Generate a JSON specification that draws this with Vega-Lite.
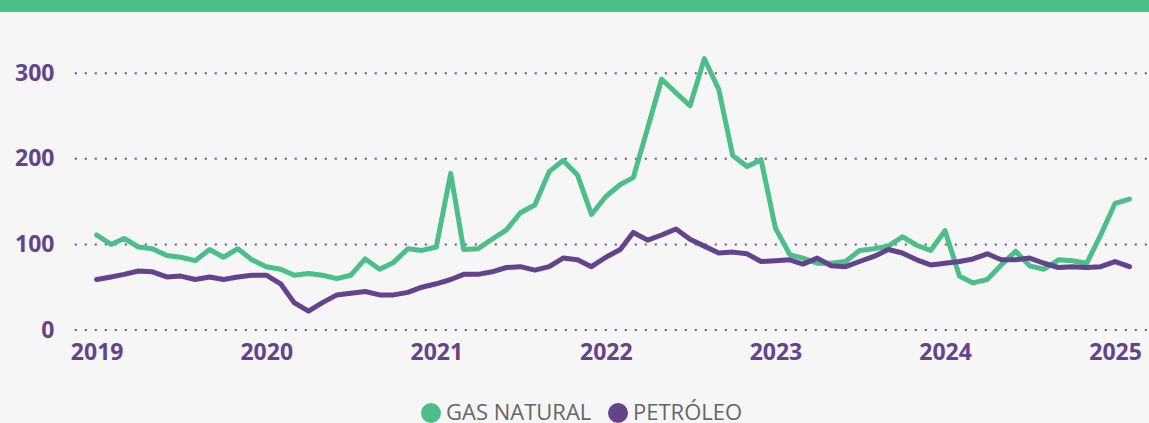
{
  "$schema": "https://vega.github.io/schema/vega-lite/v6.json",
  "background": "#F6F6F6",
  "padding": 0,
  "spacing": 27,
  "config": {"view": {"stroke": null}, "font": "Open Sans"},
  "vconcat": [
    {
      "width": 1149,
      "height": 12,
      "view": {"fill": "#4BBF87", "stroke": null},
      "data": {"values": [{"t": ""}]},
      "mark": {"type": "text", "opacity": 0},
      "encoding": {"text": {"field": "t", "type": "nominal"}}
    },
    {
      "width": 1149,
      "height": 291,
      "layer": [
        {
          "data": {"values": [{"v": 0}, {"v": 100}, {"v": 200}, {"v": 300}]},
          "mark": {"type": "rule", "strokeDash": [2, 8], "strokeWidth": 2, "color": "#6E4E96"},
          "encoding": {
            "y": {"field": "v", "type": "quantitative"},
            "x": {"datum": {"year": 2018, "month": 11, "date": 15}, "type": "temporal"},
            "x2": {"datum": {"year": 2025, "month": 3, "date": 16}}
          }
        },
        {
          "data": {
            "values": [
              {"d": "2019-01-01", "GAS NATURAL": 111, "PETRÓLEO": 59},
              {"d": "2019-02-01", "GAS NATURAL": 100, "PETRÓLEO": 62},
              {"d": "2019-03-01", "GAS NATURAL": 107, "PETRÓLEO": 65},
              {"d": "2019-04-01", "GAS NATURAL": 97, "PETRÓLEO": 69},
              {"d": "2019-05-01", "GAS NATURAL": 95, "PETRÓLEO": 68},
              {"d": "2019-06-01", "GAS NATURAL": 87, "PETRÓLEO": 62},
              {"d": "2019-07-01", "GAS NATURAL": 85, "PETRÓLEO": 63},
              {"d": "2019-08-01", "GAS NATURAL": 81, "PETRÓLEO": 59},
              {"d": "2019-09-01", "GAS NATURAL": 94, "PETRÓLEO": 62},
              {"d": "2019-10-01", "GAS NATURAL": 85, "PETRÓLEO": 59},
              {"d": "2019-11-01", "GAS NATURAL": 95, "PETRÓLEO": 62},
              {"d": "2019-12-01", "GAS NATURAL": 82, "PETRÓLEO": 64},
              {"d": "2020-01-01", "GAS NATURAL": 74, "PETRÓLEO": 64},
              {"d": "2020-02-01", "GAS NATURAL": 71, "PETRÓLEO": 54},
              {"d": "2020-03-01", "GAS NATURAL": 64, "PETRÓLEO": 32},
              {"d": "2020-04-01", "GAS NATURAL": 66, "PETRÓLEO": 22},
              {"d": "2020-05-01", "GAS NATURAL": 64, "PETRÓLEO": 32},
              {"d": "2020-06-01", "GAS NATURAL": 60, "PETRÓLEO": 41},
              {"d": "2020-07-01", "GAS NATURAL": 64, "PETRÓLEO": 43},
              {"d": "2020-08-01", "GAS NATURAL": 83, "PETRÓLEO": 45},
              {"d": "2020-09-01", "GAS NATURAL": 71, "PETRÓLEO": 41},
              {"d": "2020-10-01", "GAS NATURAL": 79, "PETRÓLEO": 41},
              {"d": "2020-11-01", "GAS NATURAL": 95, "PETRÓLEO": 44},
              {"d": "2020-12-01", "GAS NATURAL": 93, "PETRÓLEO": 50},
              {"d": "2021-01-01", "GAS NATURAL": 97, "PETRÓLEO": 54},
              {"d": "2021-02-01", "GAS NATURAL": 183, "PETRÓLEO": 59},
              {"d": "2021-03-01", "GAS NATURAL": 94, "PETRÓLEO": 65},
              {"d": "2021-04-01", "GAS NATURAL": 95, "PETRÓLEO": 65},
              {"d": "2021-05-01", "GAS NATURAL": 106, "PETRÓLEO": 68},
              {"d": "2021-06-01", "GAS NATURAL": 117, "PETRÓLEO": 73},
              {"d": "2021-07-01", "GAS NATURAL": 137, "PETRÓLEO": 74},
              {"d": "2021-08-01", "GAS NATURAL": 146, "PETRÓLEO": 70},
              {"d": "2021-09-01", "GAS NATURAL": 185, "PETRÓLEO": 74},
              {"d": "2021-10-01", "GAS NATURAL": 198, "PETRÓLEO": 84},
              {"d": "2021-11-01", "GAS NATURAL": 181, "PETRÓLEO": 82},
              {"d": "2021-12-01", "GAS NATURAL": 135, "PETRÓLEO": 74},
              {"d": "2022-01-01", "GAS NATURAL": 156, "PETRÓLEO": 85},
              {"d": "2022-02-01", "GAS NATURAL": 170, "PETRÓLEO": 94},
              {"d": "2022-03-01", "GAS NATURAL": 178, "PETRÓLEO": 114},
              {"d": "2022-04-01", "GAS NATURAL": 236, "PETRÓLEO": 105},
              {"d": "2022-05-01", "GAS NATURAL": 293, "PETRÓLEO": 111},
              {"d": "2022-06-01", "GAS NATURAL": 277, "PETRÓLEO": 118},
              {"d": "2022-07-01", "GAS NATURAL": 262, "PETRÓLEO": 106},
              {"d": "2022-08-01", "GAS NATURAL": 317, "PETRÓLEO": 98},
              {"d": "2022-09-01", "GAS NATURAL": 281, "PETRÓLEO": 90},
              {"d": "2022-10-01", "GAS NATURAL": 204, "PETRÓLEO": 91},
              {"d": "2022-11-01", "GAS NATURAL": 191, "PETRÓLEO": 89},
              {"d": "2022-12-01", "GAS NATURAL": 199, "PETRÓLEO": 80},
              {"d": "2023-01-01", "GAS NATURAL": 119, "PETRÓLEO": 81},
              {"d": "2023-02-01", "GAS NATURAL": 88, "PETRÓLEO": 82},
              {"d": "2023-03-01", "GAS NATURAL": 84, "PETRÓLEO": 77},
              {"d": "2023-04-01", "GAS NATURAL": 78, "PETRÓLEO": 84},
              {"d": "2023-05-01", "GAS NATURAL": 78, "PETRÓLEO": 75},
              {"d": "2023-06-01", "GAS NATURAL": 80, "PETRÓLEO": 74},
              {"d": "2023-07-01", "GAS NATURAL": 93, "PETRÓLEO": 80},
              {"d": "2023-08-01", "GAS NATURAL": 95, "PETRÓLEO": 86},
              {"d": "2023-09-01", "GAS NATURAL": 98, "PETRÓLEO": 94},
              {"d": "2023-10-01", "GAS NATURAL": 109, "PETRÓLEO": 90},
              {"d": "2023-11-01", "GAS NATURAL": 99, "PETRÓLEO": 82},
              {"d": "2023-12-01", "GAS NATURAL": 93, "PETRÓLEO": 76},
              {"d": "2024-01-01", "GAS NATURAL": 116, "PETRÓLEO": 78},
              {"d": "2024-02-01", "GAS NATURAL": 63, "PETRÓLEO": 80},
              {"d": "2024-03-01", "GAS NATURAL": 55, "PETRÓLEO": 83},
              {"d": "2024-04-01", "GAS NATURAL": 59, "PETRÓLEO": 89},
              {"d": "2024-05-01", "GAS NATURAL": 76, "PETRÓLEO": 82},
              {"d": "2024-06-01", "GAS NATURAL": 92, "PETRÓLEO": 82},
              {"d": "2024-07-01", "GAS NATURAL": 75, "PETRÓLEO": 84},
              {"d": "2024-08-01", "GAS NATURAL": 71, "PETRÓLEO": 78},
              {"d": "2024-09-01", "GAS NATURAL": 82, "PETRÓLEO": 73},
              {"d": "2024-10-01", "GAS NATURAL": 81, "PETRÓLEO": 74},
              {"d": "2024-11-01", "GAS NATURAL": 78, "PETRÓLEO": 73},
              {"d": "2024-12-01", "GAS NATURAL": 111, "PETRÓLEO": 74},
              {"d": "2025-01-01", "GAS NATURAL": 148, "PETRÓLEO": 80},
              {"d": "2025-02-01", "GAS NATURAL": 153, "PETRÓLEO": 74}
            ]
          },
          "transform": [{"fold": ["GAS NATURAL", "PETRÓLEO"], "as": ["serie", "valor"]}],
          "mark": {"type": "line", "strokeWidth": 5, "strokeJoin": "round", "strokeCap": "round"},
          "encoding": {
            "x": {
              "field": "d",
              "type": "temporal",
              "scale": {"domain": [{"year": 2018, "month": 6, "date": 7}, {"year": 2025, "month": 3, "date": 15}]},
              "axis": {
                "title": null,
                "format": "%Y",
                "tickCount": {"interval": "year", "step": 1},
                "grid": false,
                "ticks": false,
                "domain": false,
                "labelFont": "Open Sans",
                "labelFontSize": 23,
                "labelFontWeight": "bold",
                "labelColor": "#63438C",
                "labelPadding": 11,
                "labelFlush": false,
                "labelOverlap": false
              }
            },
            "y": {
              "field": "valor",
              "type": "quantitative",
              "scale": {"domain": [0, 340], "nice": false},
              "axis": {
                "title": null,
                "values": [0, 100, 200, 300],
                "domain": false,
                "ticks": false,
                "grid": false,
                "labelFont": "Open Sans",
                "labelFontSize": 23,
                "labelFontWeight": "bold",
                "labelColor": "#63438C",
                "labelAlign": "right",
                "labelPadding": -54,
                "minExtent": 0
              }
            },
            "color": {
              "field": "serie",
              "type": "nominal",
              "scale": {"domain": ["GAS NATURAL", "PETRÓLEO"], "range": ["#4BBF87", "#63438C"]},
              "legend": {
                "title": null,
                "orient": "none",
                "legendX": 420,
                "legendY": 402,
                "direction": "horizontal",
                "padding": 0,
                "symbolType": "circle",
                "symbolSize": 400,
                "symbolStrokeWidth": 0,
                "labelFont": "Open Sans",
                "labelFontSize": 22,
                "labelColor": "#666666",
                "labelOffset": 4,
                "columnPadding": 15,
                "encode": {
                  "symbols": {
                    "update": {
                      "fill": {"scale": "color", "field": "value"},
                      "stroke": {"value": "transparent"},
                      "opacity": {"value": 1}
                    }
                  }
                }
              }
            }
          }
        }
      ]
    }
  ]
}
